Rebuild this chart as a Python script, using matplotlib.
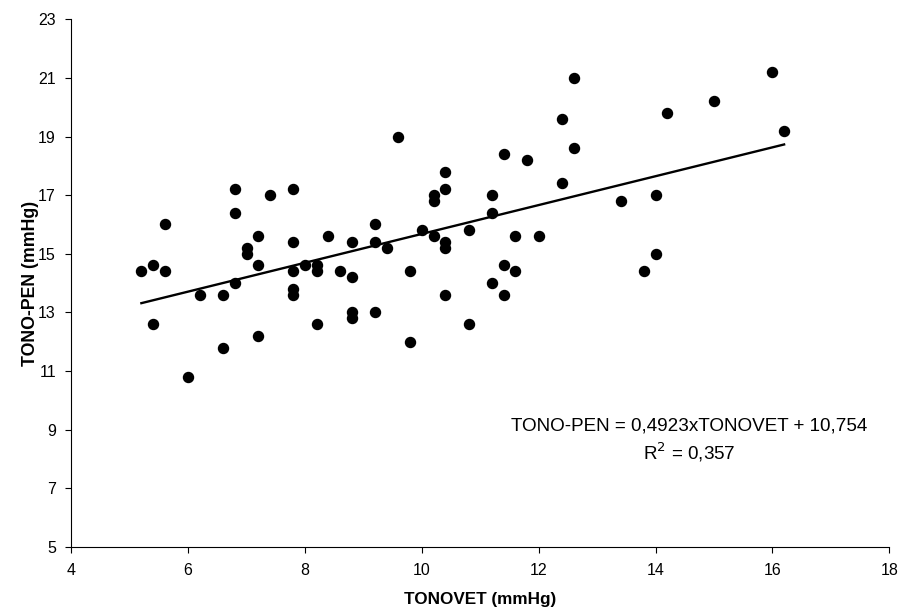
import numpy as np
import matplotlib.pyplot as plt

plt.rcParams['font.family'] = ['Liberation Sans', 'DejaVu Sans']

tonovet = [5.2, 5.4, 5.4, 5.6, 5.6, 6.0, 6.2, 6.6, 6.6, 6.8, 6.8, 6.8,
           7.0, 7.0, 7.2, 7.2, 7.2, 7.4, 7.8, 7.8, 7.8, 7.8, 7.8, 8.0,
           8.2, 8.2, 8.2, 8.4, 8.6, 8.8, 8.8, 8.8, 8.8, 9.2, 9.2, 9.2,
           9.4, 9.6, 9.8, 9.8, 10.0, 10.2, 10.2, 10.2, 10.4, 10.4, 10.4, 10.4,
           10.4, 10.8, 10.8, 11.2, 11.2, 11.2, 11.4, 11.4, 11.4, 11.6, 11.6, 11.8,
           12.0, 12.4, 12.4, 12.6, 12.6, 13.4, 13.8, 14.0, 14.0, 14.2, 15.0, 16.0,
           16.2]
tonopen = [14.4, 14.6, 12.6, 16.0, 14.4, 10.8, 13.6, 13.6, 11.8, 17.2, 16.4, 14.0,
           15.2, 15.0, 15.6, 14.6, 12.2, 17.0, 17.2, 15.4, 14.4, 13.8, 13.6, 14.6,
           14.6, 14.4, 12.6, 15.6, 14.4, 15.4, 14.2, 13.0, 12.8, 16.0, 15.4, 13.0,
           15.2, 19.0, 14.4, 12.0, 15.8, 17.0, 16.8, 15.6, 17.8, 17.2, 15.4, 15.2,
           13.6, 15.8, 12.6, 17.0, 16.4, 14.0, 18.4, 14.6, 13.6, 15.6, 14.4, 18.2,
           15.6, 19.6, 17.4, 21.0, 18.6, 16.8, 14.4, 17.0, 15.0, 19.8, 20.2, 21.2,
           19.2]

slope = 0.4923
intercept = 10.754
r2 = 0.357

fig = plt.figure(figsize=(9.01, 6.13), dpi=100)
ax = fig.add_axes([0.0791, 0.108, 0.9079, 0.8605])

ax.scatter(tonovet, tonopen, s=52, color='black', zorder=3)

# trend line over the data range
x = np.array([min(tonovet), max(tonovet)])
ax.plot(x, slope * x + intercept, color='black', linewidth=1.7)

ax.set_xlim(4, 18)
ax.set_ylim(5, 23)
ax.set_xticks(range(4, 19, 2))
ax.set_yticks(range(5, 24, 2))
ax.spines['top'].set_visible(False)
ax.spines['right'].set_visible(False)
ax.tick_params(direction='out', length=4, labelsize=11.5)
ax.tick_params(axis='x', pad=8)
ax.tick_params(axis='y', pad=7)

ax.set_xlabel('TONOVET (mmHg)', fontsize=12.3, fontweight='bold')
ax.set_ylabel('TONO-PEN (mmHg)', fontsize=12.8, fontweight='bold')
ax.xaxis.set_label_coords(0.5, -0.086)
ax.yaxis.set_label_coords(-0.039, 0.5)

ax.text(14.58, 9.13, 'TONO-PEN = 0,4923xTONOVET + 10,754', ha='center', va='center', fontsize=13.6)
ax.text(14.58, 8.22, 'R$^2$ = 0,357', ha='center', va='center', fontsize=13.6)

fig.savefig('out.png', dpi=100)
